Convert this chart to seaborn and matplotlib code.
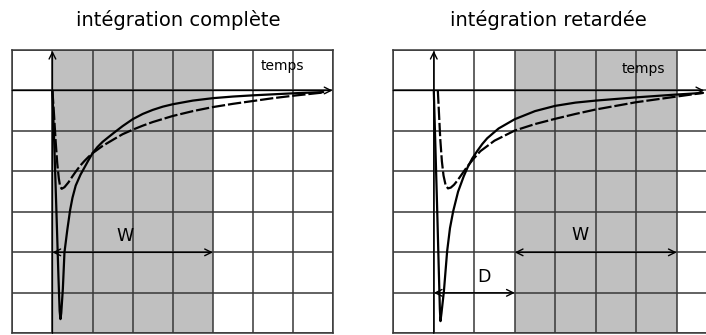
import matplotlib
matplotlib.use("Agg")
import matplotlib.pyplot as plt
import seaborn as sns
import pandas as pd

# Grid extent (time in grid columns, response in grid rows)
x_range = (-1, 7)
y_range = (-6, 1)

# Left panel: full integration window
left_solid_t = [0, 0.05, 0.10, 0.15, 0.18, 0.20, 0.22, 0.26, 0.30, 0.37, 0.44, 0.50, 0.58,
                0.70, 0.80, 0.90, 1.0, 1.12, 1.25, 1.40, 1.54, 1.75, 2.0, 2.25, 2.5, 2.75,
                3.0, 3.5, 4.0, 4.5, 5.0, 5.5, 6.0, 6.75]
left_solid_v = [0, -1.45, -3.0, -4.6, -5.45, -5.65, -5.5, -4.9, -4.0, -3.45, -2.96, -2.65, -2.35,
                -2.08, -1.90, -1.72, -1.55, -1.40, -1.27, -1.15, -1.04, -0.88, -0.71, -0.58,
                -0.48, -0.40, -0.34, -0.25, -0.19, -0.15, -0.12, -0.095, -0.07, -0.04]
left_dash_t = [0, 0.04, 0.08, 0.12, 0.16, 0.19, 0.23, 0.30, 0.40, 0.50, 0.60, 0.70, 0.80,
               0.90, 1.0, 1.25, 1.54, 1.75, 2.0, 2.25, 2.5, 3.0, 3.5, 4.0, 4.5, 5.0, 5.5,
               6.0, 6.75]
left_dash_v = [0, -0.6, -1.25, -1.8, -2.18, -2.36, -2.43, -2.39, -2.27, -2.12, -1.98, -1.85,
               -1.74, -1.64, -1.55, -1.37, -1.20, -1.08, -0.97, -0.87, -0.78, -0.63, -0.51,
               -0.41, -0.33, -0.26, -0.19, -0.13, -0.05]

# Right panel: delayed integration window
right_solid_t = [0, 0.04, 0.08, 0.12, 0.15, 0.165, 0.19, 0.25, 0.33, 0.40, 0.48, 0.60, 0.74,
                 0.84, 0.95, 1.07, 1.2, 1.32, 1.6, 2.0, 2.5, 3.0, 3.5, 4.0, 5.0, 6.0, 6.65]
right_solid_v = [0, -1.4, -2.8, -4.3, -5.4, -5.70, -5.5, -4.96, -3.97, -3.4, -2.98, -2.5,
                 -2.12, -1.89, -1.68, -1.50, -1.32, -1.18, -0.94, -0.71, -0.51, -0.38, -0.30,
                 -0.25, -0.17, -0.10, -0.06]
right_dash_t = [0.10, 0.13, 0.16, 0.20, 0.24, 0.29, 0.35, 0.42, 0.50, 0.58, 0.70, 0.82, 0.98,
                1.15, 1.5, 2.0, 2.5, 3.0, 3.5, 4.0, 5.0, 6.0, 6.65]
right_dash_v = [0, -0.6, -1.2, -1.75, -2.1, -2.33, -2.42, -2.40, -2.33, -2.23, -2.06, -1.89,
                -1.69, -1.50, -1.24, -0.99, -0.83, -0.70, -0.58, -0.47, -0.29, -0.15, -0.06]

titles = ["intégration complète", "intégration retardée"]
time_label = "temps"

# Windows: (start, end) of the shaded integration span and the delay span
left_window = (0, 4)
right_delay = (0, 2)
right_window = (2, 6)

sns.set_style("white")
plt.rcParams["font.family"] = ["DejaVu Sans"]
plt.rcParams["text.color"] = "black"

fig = plt.figure(figsize=(7.06, 3.35), dpi=100)
ax_l = fig.add_axes([12.3 / 706, 1.7 / 335, 321 / 706, 283.3 / 335])
ax_r = fig.add_axes([393.3 / 706, 1.7 / 335, 323.9 / 706, 283.3 / 335])

GRID = "#383838"
SHADE = "#c0c0c0"


def frame(ax, axis_end):
    ax.set_xlim(*x_range)
    ax.set_ylim(*y_range)
    ax.set_xticks(range(x_range[0], x_range[1] + 1))
    ax.set_yticks(range(y_range[0], y_range[1] + 1))
    ax.tick_params(length=0, labelbottom=False, labelleft=False)
    ax.set_axisbelow("line")
    ax.grid(True, color=GRID, lw=1.1)
    for s in ax.spines.values():
        s.set_color(GRID)
        s.set_linewidth(1.1)
    arrow = dict(arrowstyle="->", lw=1.0, color="black", mutation_scale=12,
                 shrinkA=0, shrinkB=0)
    ax.annotate("", xy=(0, y_range[1] - 0.02), xytext=(0, y_range[0]), arrowprops=arrow)
    ax.annotate("", xy=(axis_end, 0), xytext=(x_range[0], 0), arrowprops=arrow)


def span_arrow(ax, x0, x1, y):
    ax.annotate("", xy=(x1, y), xytext=(x0, y),
                arrowprops=dict(arrowstyle="<->", lw=1.0, color="black",
                                mutation_scale=12, shrinkA=0, shrinkB=0), zorder=4)


def curves(ax, st, sv, dt, dv):
    sns.lineplot(data=pd.DataFrame({"t": st, "v": sv}), x="t", y="v", sort=False,
                 estimator=None, color="black", lw=1.6, ax=ax, zorder=3)
    sns.lineplot(data=pd.DataFrame({"t": dt, "v": dv}), x="t", y="v", sort=False,
                 estimator=None, color="black", lw=1.6, ax=ax, zorder=3)
    ax.lines[-1].set_dashes([6, 1.3])
    for ln in ax.lines[-2:]:
        ln.set_solid_joinstyle("round")
        ln.set_dash_joinstyle("round")
    ax.set_xlabel("")
    ax.set_ylabel("")


# Left panel
ax_l.axvspan(*left_window, color=SHADE, lw=0, zorder=1)
frame(ax_l, 6.98)
curves(ax_l, left_solid_t, left_solid_v, left_dash_t, left_dash_v)
span_arrow(ax_l, *left_window, -4)
ax_l.text(1.82, -3.6, "W", fontsize=12.5, ha="center", va="center")
ax_l.text(5.72, 0.6, time_label, fontsize=10, ha="center", va="center")

# Right panel
ax_r.axvspan(*right_window, color=SHADE, lw=0, zorder=1)
frame(ax_r, 6.68)
curves(ax_r, right_solid_t, right_solid_v, right_dash_t, right_dash_v)
span_arrow(ax_r, *right_delay, -5)
span_arrow(ax_r, *right_window, -4)
ax_r.text(1.25, -4.6, "D", fontsize=12.5, ha="center", va="center")
ax_r.text(3.62, -3.57, "W", fontsize=12.5, ha="center", va="center")
ax_r.text(5.18, 0.54, time_label, fontsize=10, ha="center", va="center")

fig.text(178 / 706, 1 - 20 / 335, titles[0], fontsize=14, ha="center", va="center")
fig.text(548 / 706, 1 - 20 / 335, titles[1], fontsize=14, ha="center", va="center")

fig.savefig("out.png", dpi=100)
